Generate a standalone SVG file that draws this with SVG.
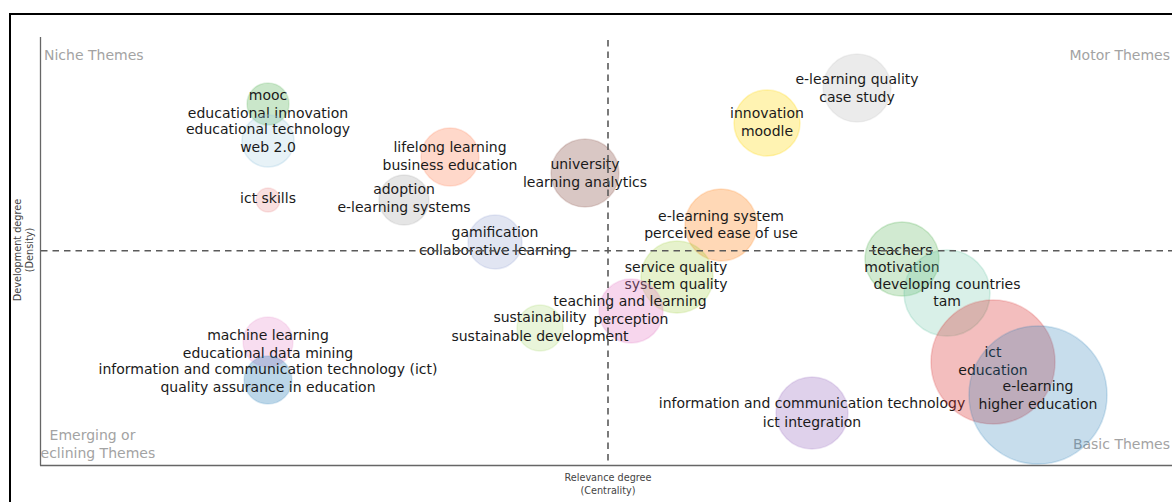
<svg xmlns="http://www.w3.org/2000/svg" width="1172" height="502" viewBox="0 0 1172 502">
<defs>
<style>
.lbl{font-family:"DejaVu Sans",Verdana,sans-serif;font-size:14px;fill:#1a1a1a;text-anchor:middle}
.quad{font-family:"DejaVu Sans",Verdana,sans-serif;font-size:14px;fill:#a3a3a3}
.axt{font-family:"DejaVu Sans",Verdana,sans-serif;font-size:9.7px;fill:#444;text-anchor:middle}
.b{stroke-width:1.5}
.dash{stroke:#5a5a5a;stroke-width:1.6;stroke-dasharray:6.5,5;fill:none}
.axis{stroke:#666;stroke-width:1.3;fill:none}
</style>
<clipPath id="plot"><rect x="40.5" y="30" width="1140" height="436"/></clipPath>
</defs>
<rect x="0" y="0" width="1172" height="502" fill="#fff"/>
<rect x="10" y="14" width="1200" height="600" fill="none" stroke="#000" stroke-width="2"/>

<g id="axes">
<line class="axis" x1="40.5" y1="37" x2="40.5" y2="465.5"/>
<line class="axis" x1="40" y1="465.5" x2="1172" y2="465.5"/>
<text class="axt" x="608" y="480.5">Relevance degree</text>
<text class="axt" x="608" y="493.5">(Centrality)</text>
<text class="axt" transform="translate(20.5,250) rotate(-90)">Development degree</text>
<text class="axt" transform="translate(33,250) rotate(-90)">(Density)</text>
</g>

<g id="quadrants">
<text class="quad" x="44" y="60">Niche Themes</text>
<text class="quad" x="1170" y="60" text-anchor="end">Motor Themes</text>
<g clip-path="url(#plot)">
<text class="quad" x="92.5" y="440" text-anchor="middle">Emerging or</text>
<text class="quad" x="92.5" y="458" text-anchor="middle">Declining Themes</text>
</g>
<text class="quad" x="1170" y="449" text-anchor="end">Basic Themes</text>
</g>

<g id="nodes">
<g id="n-mooc"><circle class="b" cx="268" cy="104" r="21" fill="#2ca02c" fill-opacity="0.25" stroke="#2ca02c" stroke-opacity="0.15"/>
<text class="lbl" x="268" y="100">mooc</text><text class="lbl" x="268" y="118">educational innovation</text></g>
<g id="n-web"><circle class="b" cx="268" cy="141" r="26" fill="#9ecae1" fill-opacity="0.25" stroke="#9ecae1" stroke-opacity="0.3"/>
<text class="lbl" x="268" y="134">educational technology</text><text class="lbl" x="268" y="152">web 2.0</text></g>
<g id="n-ictskills"><circle class="b" cx="268" cy="200" r="12" fill="#d62728" fill-opacity="0.15" stroke="#d62728" stroke-opacity="0.1"/>
<text class="lbl" x="268" y="203">ict skills</text></g>
<g id="n-lifelong"><circle class="b" cx="450" cy="157" r="29" fill="#ff7f50" fill-opacity="0.3" stroke="#ff7f50" stroke-opacity="0.2"/>
<text class="lbl" x="450" y="152">lifelong learning</text><text class="lbl" x="450" y="170">business education</text></g>
<g id="n-adoption"><circle class="b" cx="404" cy="200" r="25" fill="#7f7f7f" fill-opacity="0.2" stroke="#7f7f7f" stroke-opacity="0.15"/>
<text class="lbl" x="404" y="194">adoption</text><text class="lbl" x="404" y="212">e-learning systems</text></g>
<g id="n-gamification"><circle class="b" cx="495" cy="242" r="27" fill="#6b7fc0" fill-opacity="0.2" stroke="#6b7fc0" stroke-opacity="0.15"/>
<text class="lbl" x="495" y="237">gamification</text><text class="lbl" x="495" y="255">collaborative learning</text></g>
<g id="n-university"><circle class="b" cx="585" cy="173" r="34" fill="#8c564b" fill-opacity="0.33" stroke="#8c564b" stroke-opacity="0.2"/>
<text class="lbl" x="585" y="169">university</text><text class="lbl" x="585" y="187">learning analytics</text></g>
<g id="n-innovation"><circle class="b" cx="767" cy="123" r="33" fill="#ffd700" fill-opacity="0.3" stroke="#ffd700" stroke-opacity="0.25"/>
<text class="lbl" x="767" y="118">innovation</text><text class="lbl" x="767" y="136">moodle</text></g>
<g id="n-elq"><circle class="b" cx="857" cy="88" r="34" fill="#bdbdbd" fill-opacity="0.3" stroke="#bdbdbd" stroke-opacity="0.2"/>
<text class="lbl" x="857" y="84">e-learning quality</text><text class="lbl" x="857" y="102">case study</text></g>
<g id="n-els"><circle class="b" cx="721" cy="225" r="36" fill="#ff7f0e" fill-opacity="0.3" stroke="#ff7f0e" stroke-opacity="0.2"/>
<text class="lbl" x="721" y="221">e-learning system</text><text class="lbl" x="721" y="238">perceived ease of use</text></g>
<g id="n-service"><circle class="b" cx="677" cy="277" r="36" fill="#9acd32" fill-opacity="0.25" stroke="#9acd32" stroke-opacity="0.2"/>
<text class="lbl" x="676" y="272">service quality</text><text class="lbl" x="676" y="289">system quality</text></g>
<g id="n-teaching"><circle class="b" cx="631" cy="311" r="32" fill="#e377c2" fill-opacity="0.3" stroke="#e377c2" stroke-opacity="0.2"/>
<text class="lbl" x="630" y="306">teaching and learning</text><text class="lbl" x="631" y="324">perception</text></g>
<g id="n-sustainability"><circle class="b" cx="540" cy="328" r="23" fill="#a6d96a" fill-opacity="0.25" stroke="#a6d96a" stroke-opacity="0.2"/>
<text class="lbl" x="540" y="322">sustainability</text><text class="lbl" x="540" y="341">sustainable development</text></g>
<g id="n-ictintegration"><circle class="b" cx="812" cy="413" r="36" fill="#9467bd" fill-opacity="0.3" stroke="#9467bd" stroke-opacity="0.2"/>
<text class="lbl" x="812" y="408">information and communication technology</text><text class="lbl" x="812" y="427">ict integration</text></g>
<g id="n-ml"><circle class="b" cx="268" cy="342" r="25" fill="#e377c2" fill-opacity="0.25" stroke="#e377c2" stroke-opacity="0.15"/>
<text class="lbl" x="268" y="340">machine learning</text><text class="lbl" x="268" y="358">educational data mining</text></g>
<g id="n-qa"><circle class="b" cx="268" cy="380" r="24" fill="#1f77b4" fill-opacity="0.3" stroke="#1f77b4" stroke-opacity="0.15"/>
<text class="lbl" x="268" y="374">information and communication technology (ict)</text><text class="lbl" x="268" y="392">quality assurance in education</text></g>
<g id="n-teachers"><circle class="b" cx="902" cy="259" r="37" fill="#2ca02c" fill-opacity="0.22" stroke="#2ca02c" stroke-opacity="0.2"/>
<text class="lbl" x="902" y="255">teachers</text><text class="lbl" x="902" y="272">motivation</text></g>
<g id="n-developing"><circle class="b" cx="947" cy="293" r="43" fill="#66c2a5" fill-opacity="0.25" stroke="#66c2a5" stroke-opacity="0.25"/>
<text class="lbl" x="947" y="289">developing countries</text><text class="lbl" x="947" y="306">tam</text></g>
<g id="n-ict"><circle class="b" cx="993" cy="362" r="62" fill="#d62728" fill-opacity="0.3" stroke="#d62728" stroke-opacity="0.2"/>
<text class="lbl" x="993" y="357">ict</text><text class="lbl" x="993" y="375">education</text></g>
<g id="n-elearning"><circle class="b" cx="1038" cy="395" r="69" fill="#1f77b4" fill-opacity="0.25" stroke="#1f77b4" stroke-opacity="0.2"/>
<text class="lbl" x="1038" y="391">e-learning</text><text class="lbl" x="1038" y="409">higher education</text></g>
</g>

<g id="connectors">
<line class="dash" x1="608" y1="40" x2="608" y2="465"/>
<line class="dash" x1="41" y1="250.7" x2="1172" y2="250.7"/>
</g>
</svg>
